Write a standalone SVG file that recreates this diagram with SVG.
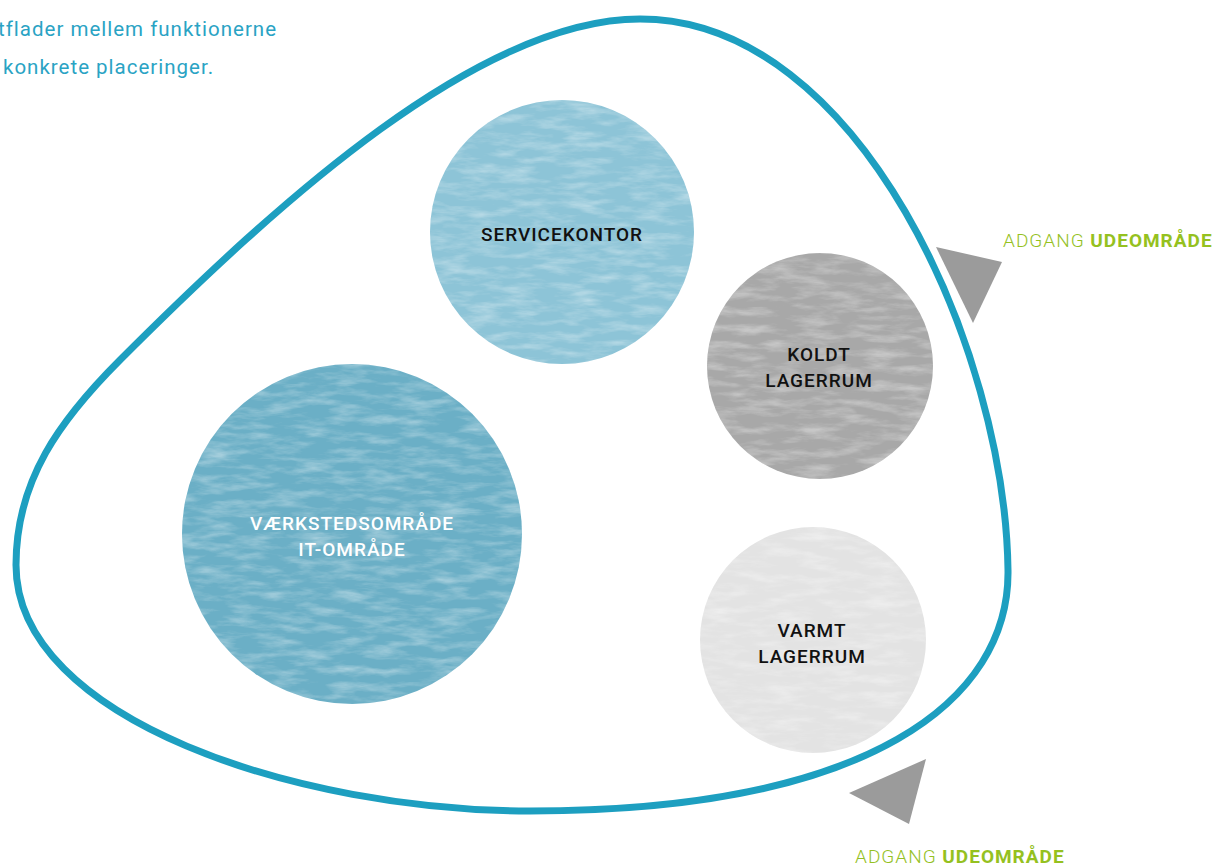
<svg xmlns="http://www.w3.org/2000/svg" width="1216" height="868" viewBox="0 0 1216 868">
<style>
  .lbl{font-family:Roboto,"Liberation Sans",sans-serif;font-size:19px;font-weight:500;letter-spacing:1px;text-anchor:middle}
  .dark{fill:#111}
  .light{fill:#ffffff}
  .access{font-family:Roboto,"Liberation Sans",sans-serif;font-size:19px;letter-spacing:1px;fill:#95c11f}
  .intro{font-family:Roboto,"Liberation Sans",sans-serif;font-size:20.5px;letter-spacing:1px;fill:#2aa3c4}
  .tri{fill:#9b9b9b}
</style>
<defs>
  <filter id="tex" x="0" y="0" width="1" height="1" color-interpolation-filters="sRGB">
    <feTurbulence type="fractalNoise" baseFrequency="0.03 0.12" numOctaves="4" seed="7" result="n"/>
    <feColorMatrix in="n" type="matrix" values="0 0 0 0 1  0 0 0 0 1  0 0 0 0 1  0.8 0 0 0 -0.33" result="w"/>
    <feComposite in="w" in2="SourceGraphic" operator="in" result="wm"/>
    <feMerge><feMergeNode in="SourceGraphic"/><feMergeNode in="wm"/></feMerge>
  </filter>
</defs>
<rect width="1216" height="868" fill="#ffffff"/>

<g id="intro-text">
  <text class="intro" x="-2" y="36">tflader mellem funktionerne</text>
  <text class="intro" x="3" y="74">konkrete placeringer.</text>
</g>

<g id="boundary">
  <path d="M640,19 C860,19 1005,350 1008,570 C1010,700 870,811 530,811 C300,811 16,720 16,565 C16,480 60,420 120,360 C280,200 480,19 640,19 Z" fill="none" stroke="#1d9fc0" stroke-width="7"/>
</g>

<g id="node-servicekontor">
  <circle cx="562" cy="232" r="132" fill="#8dc4d7" filter="url(#tex)"/>
  <text class="lbl dark" x="562" y="241">SERVICEKONTOR</text>
</g>

<g id="node-vaerksted">
  <circle cx="352" cy="534" r="170" fill="#6bafc6" filter="url(#tex)"/>
  <text class="lbl light" x="352" y="530">VÆRKSTEDSOMRÅDE</text>
  <text class="lbl light" x="352" y="556">IT-OMRÅDE</text>
</g>

<g id="node-koldt">
  <circle cx="820" cy="366" r="113" fill="#a8a8a8" filter="url(#tex)"/>
  <text class="lbl dark" x="819" y="361">KOLDT</text>
  <text class="lbl dark" x="819" y="387">LAGERRUM</text>
</g>

<g id="node-varmt">
  <circle cx="813" cy="640" r="113" fill="#e3e3e3" filter="url(#tex)"/>
  <text class="lbl dark" x="812" y="637">VARMT</text>
  <text class="lbl dark" x="812" y="663">LAGERRUM</text>
</g>

<g id="connectors">
  <polygon class="tri" points="936,247 1002,262 973,323"/>
  <polygon class="tri" points="926,759 849,793 909,824"/>
</g>

<g id="access-labels">
  <text class="access" x="1003" y="247"><tspan font-weight="300">ADGANG </tspan><tspan font-weight="700">UDEOMRÅDE</tspan></text>
  <text class="access" x="855" y="863"><tspan font-weight="300">ADGANG </tspan><tspan font-weight="700">UDEOMRÅDE</tspan></text>
</g>
</svg>
